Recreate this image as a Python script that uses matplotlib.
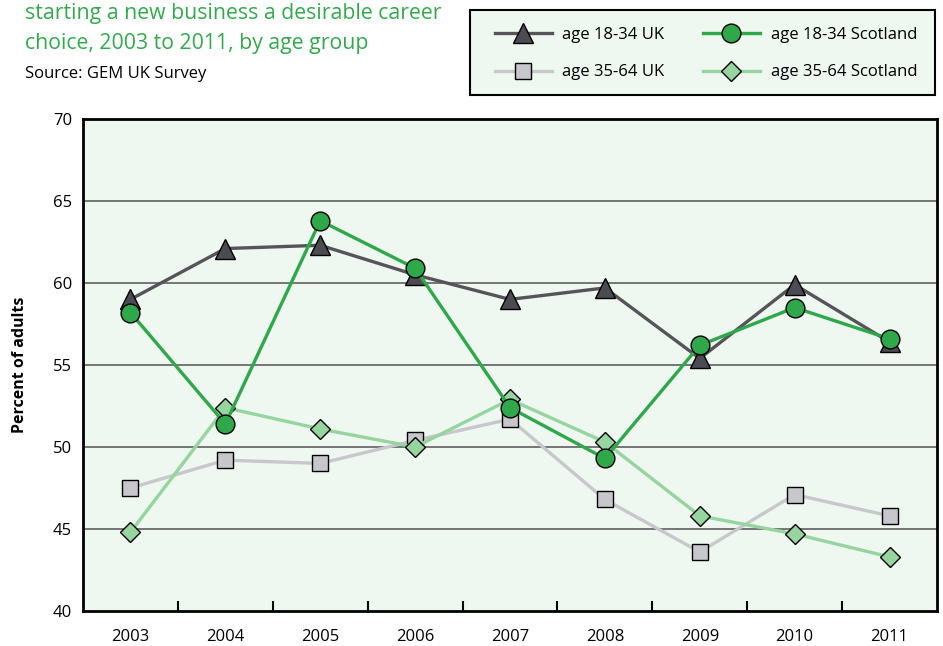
import matplotlib.pyplot as plt
from matplotlib.patches import Rectangle

plt.rcParams['font.family'] = ['Open Sans', 'DejaVu Sans']

# Data
years = ["2003", "2004", "2005", "2006", "2007", "2008", "2009", "2010", "2011"]
uk_18_34 = [59.0, 62.1, 62.3, 60.5, 59.0, 59.7, 55.4, 59.9, 56.4]
scot_18_34 = [58.2, 51.4, 63.8, 60.9, 52.4, 49.3, 56.2, 58.5, 56.6]
uk_35_64 = [47.5, 49.2, 49.0, 50.4, 51.7, 46.8, 43.6, 47.1, 45.8]
scot_35_64 = [44.8, 52.4, 51.1, 50.0, 52.9, 50.3, 45.8, 44.7, 43.3]

bg = "#eef7f0"
green = "#2ea84a"
light_green = "#96d4a0"
dark_grey = "#4b4b52"
light_grey = "#c6c7cb"

W, H = 943, 646
fig = plt.figure(figsize=(W / 100, H / 100), dpi=100)
ax = fig.add_axes([83 / W, 1 - 611 / H, 854 / W, 492 / H])
ax.set_facecolor(bg)

x = list(range(len(years)))

# draw order: squares, diamonds, triangles, circles
sq, = ax.plot(x, uk_35_64, color="#c8c8cc", lw=2.4, marker="s", ms=11.5,
              mfc=light_grey, mec="black", mew=1.0, zorder=3,
              label="age 35-64 UK")
di, = ax.plot(x, scot_35_64, color=light_green, lw=2.4, marker="D", ms=10.5,
              mfc=light_green, mec="black", mew=1.0, zorder=4,
              label="age 35-64 Scotland")
tri, = ax.plot(x, uk_18_34, color="#555559", lw=2.4, marker="^", ms=14,
               mfc=dark_grey, mec="black", mew=1.0, zorder=5,
               label="age 18-34 UK")
ci, = ax.plot(x, scot_18_34, color=green, lw=2.4, marker="o", ms=13.5,
              mfc=green, mec="black", mew=1.0, zorder=6,
              label="age 18-34 Scotland")

ax.set_xlim(-0.5, len(years) - 0.5)
ax.set_ylim(40, 70)
ax.set_yticks([40, 45, 50, 55, 60, 65, 70])
ax.tick_params(axis="y", length=0, labelsize=12, pad=8)
ax.set_xticks(x)
ax.set_xticklabels(years)
ax.tick_params(axis="x", which="major", length=0, labelsize=12, pad=13)
ax.set_xticks([i + 0.5 for i in x[:-1]], minor=True)
ax.tick_params(axis="x", which="minor", direction="in", length=7, width=1.5,
               color="black")

for v in [45, 50, 55, 60, 65]:
    ax.axhline(v, color="#6b6b6b", lw=1.3, zorder=1)

for s in ax.spines.values():
    s.set_linewidth(2.0)
    s.set_color("black")

ax.set_ylabel("Percent of adults", fontsize=11.5, fontweight="bold", labelpad=18)

# Titles
fig.text(25 / W, 1 - 19 / H, "starting a new business a desirable career",
         color="#35a84e", fontsize=15.3, va="baseline")
fig.text(25 / W, 1 - 49 / H, "choice, 2003 to 2011, by age group",
         color="#35a84e", fontsize=15.3, va="baseline")
fig.text(25 / W, 1 - 78 / H, "Source: GEM UK Survey", color="black",
         fontsize=12, va="baseline")

# Legend box
fig.patches.append(Rectangle((470 / W, 1 - 95 / H), 465 / W, 85 / H,
                             transform=fig.transFigure, facecolor=bg,
                             edgecolor="black", lw=1.5, zorder=0))
leg = fig.legend(handles=[tri, sq, ci, di], ncol=2,
                 loc="center left", bbox_to_anchor=(495 / W, 1 - 53.5 / H),
                 fontsize=12, frameon=False, handlelength=3.4,
                 labelspacing=1.3, borderpad=0, borderaxespad=0,
                 columnspacing=2.3, handletextpad=0.65)

fig.savefig("out.png", dpi=100)
